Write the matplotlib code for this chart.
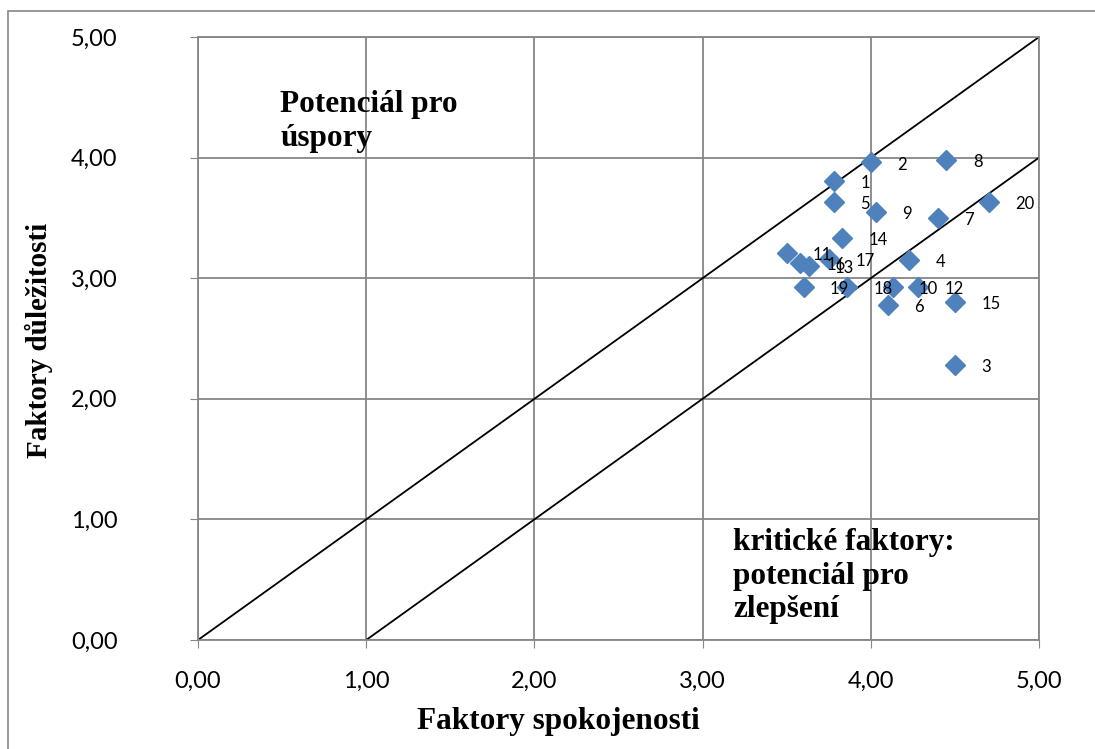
import matplotlib.pyplot as plt
from matplotlib.patches import Rectangle

# prumerne hodnoty faktoru: spokojenost (x) a dulezitost (y)
labels = ['1', '2', '3', '4', '5', '6', '7', '8', '9', '10',
          '11', '12', '13', '14', '15', '16', '17', '18', '19', '20']
spokojenost = [3.78, 4.00, 4.50, 4.23, 3.78, 4.10, 4.40, 4.45, 4.03, 4.13,
               3.50, 4.28, 3.63, 3.83, 4.50, 3.58, 3.75, 3.86, 3.60, 4.70]
dulezitost = [3.81, 3.96, 2.28, 3.15, 3.63, 2.78, 3.50, 3.98, 3.55, 2.93,
              3.21, 2.93, 3.10, 3.33, 2.80, 3.13, 3.16, 2.93, 2.93, 3.63]

ticks = [0, 1, 2, 3, 4, 5]
tick_labels = ['0,00', '1,00', '2,00', '3,00', '4,00', '5,00']

GRID = '#868686'
BLUE = '#4F81BD'
SERIF = 'Liberation Serif'
SANS = 'Lato'

fig = plt.figure(figsize=(10.95, 7.49), dpi=100)
ax = fig.add_axes([198 / 1095, 1 - 640 / 749, (1039 - 198) / 1095, (640 - 37) / 749])

# ramecek kolem celeho grafu
fig.patches.append(Rectangle((8 / 1095, -0.1), 1.2, 1 - 11 / 749 + 0.1,
                             transform=fig.transFigure, fill=False,
                             edgecolor=GRID, lw=1.2))

ax.set_xlim(0, 5)
ax.set_ylim(0, 5)
ax.set_xticks(ticks)
ax.set_yticks(ticks)
ax.set_xticklabels(tick_labels, fontfamily=SANS, fontsize=17)
ax.set_yticklabels(tick_labels, fontfamily=SANS, fontsize=17)
ax.tick_params(axis='x', direction='out', length=6, color=GRID, pad=16)
ax.tick_params(axis='y', direction='out', length=6, color=GRID, pad=52)
ax.grid(True, color=GRID, lw=1.3)
ax.set_axisbelow(True)
for s in ax.spines.values():
    s.set_color(GRID)
    s.set_linewidth(1.3)

# hranice: y = x a y = x - 1
ax.plot([0, 5], [0, 5], color='black', lw=1.3, zorder=2)
ax.plot([1, 5], [0, 4], color='black', lw=1.3, zorder=2)

ax.plot(spokojenost, dulezitost, 'D', color=BLUE, ms=10.5, mec=BLUE, zorder=3)
for lab, x, y in zip(labels, spokojenost, dulezitost):
    ax.annotate(lab, (x, y), xytext=(19, -1.5), textcoords='offset points',
                ha='left', va='center', fontfamily=SANS, fontsize=12)

# va='baseline' u viceradkoveho textu zarovnava posledni radek
ax.text(0.49, 4.10, 'Potenciál pro\núspory', fontfamily=SERIF, fontweight='bold',
        fontsize=22.5, va='baseline', ha='left', zorder=1)
ax.text(3.18, 0.19, 'kritické faktory:\npotenciál pro\nzlepšení', fontfamily=SERIF,
        fontweight='bold', fontsize=22.5, va='baseline', ha='left', zorder=1)

fig.text(558 / 1095, 1 - 722 / 749, 'Faktory spokojenosti', fontfamily=SERIF,
         fontweight='bold', fontsize=22.5, ha='center', va='center')
fig.text(39 / 1095, 1 - 340 / 749, 'Faktory důležitosti', fontfamily=SERIF,
         fontweight='bold', fontsize=21, ha='center', va='center', rotation=90)

fig.savefig('out.png', dpi=100)
